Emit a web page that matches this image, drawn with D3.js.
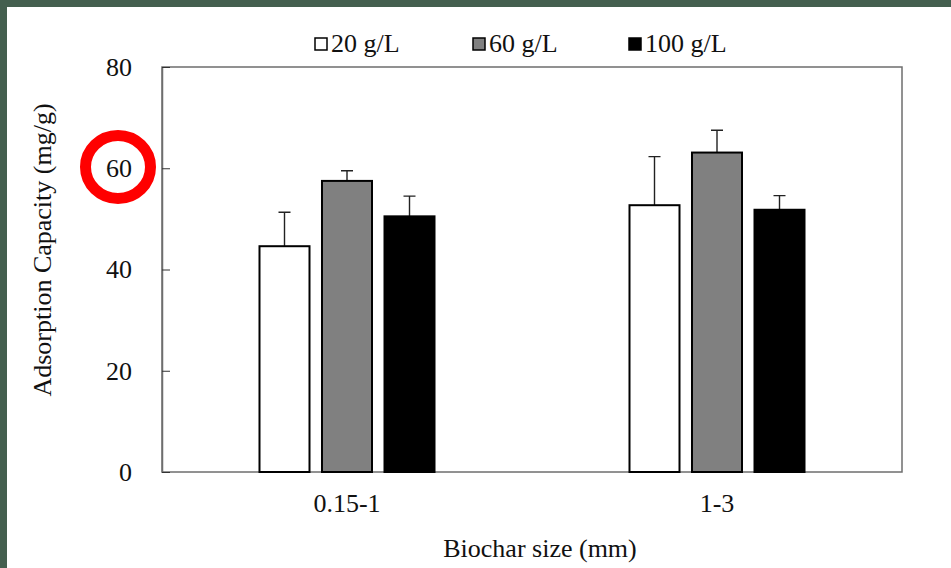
<!DOCTYPE html>
<html>
<head>
<meta charset="utf-8">
<script src="https://cdn.jsdelivr.net/npm/d3@7"></script>
<style>
  html, body { margin: 0; padding: 0; background: #fff; }
  svg { display: block; }
  text { font-family: "Liberation Serif", "Times New Roman", serif; fill: #111; }
</style>
</head>
<body>
<svg id="chart"></svg>
<script>
// data
var sizes = ["0.15-1", "1-3"];
var doses = ["20 g/L", "60 g/L", "100 g/L"];
var fills = ["#ffffff", "#808080", "#000000"];
var means = [
  [44.6, 57.5, 50.5],
  [52.7, 63.1, 51.8]
];
var errs = [
  [6.7, 2.0, 4.0],
  [9.6, 4.4, 2.8]
];
var yTicks = [0, 20, 40, 60, 80];

var width = 951,
    height = 568;

var margin = {left: 162, top: 67, right: 49, bottom: 96};

var svg = d3.select("#chart")
    .attr("width", width)
    .attr("height", height);

// dark frame at left and top
svg.append("rect").attr("x", 0).attr("y", 0).attr("width", width).attr("height", 7).attr("fill", "#445f4f");
svg.append("rect").attr("x", 0).attr("y", 0).attr("width", 7).attr("height", height).attr("fill", "#445f4f");

var x0 = d3.scaleBand()
    .domain(sizes)
    .range([margin.left, width - margin.right]);

var x1 = d3.scaleBand()
    .domain(doses)
    .range([-87.5, 87.5])
    .paddingInner(0.2);

var y = d3.scaleLinear()
    .domain([0, 80])
    .range([height - margin.bottom, margin.top]);

// plot frame
svg.append("rect")
    .attr("x", margin.left)
    .attr("y", margin.top)
    .attr("width", width - margin.left - margin.right)
    .attr("height", height - margin.top - margin.bottom)
    .attr("fill", "none")
    .attr("stroke", "#6e6e6e")
    .attr("stroke-width", 1.5);

var yAxis = svg.append("g")
    .attr("transform", "translate(" + margin.left + ",0)")
    .call(d3.axisLeft(y).tickValues(yTicks).tickSizeInner(-8).tickSizeOuter(0).tickPadding(30));
yAxis.select(".domain").attr("stroke", "#6e6e6e").attr("stroke-width", 1.5);
yAxis.selectAll(".tick line").attr("stroke", "#333");
yAxis.selectAll(".tick text")
    .attr("font-size", 26)
    .attr("font-family", "Liberation Serif, serif")
    .attr("fill", "#111");

var xAxis = svg.append("g")
    .attr("transform", "translate(0," + (height - margin.bottom) + ")")
    .call(d3.axisBottom(x0).tickSize(0).tickPadding(22));
xAxis.select(".domain").remove();
xAxis.selectAll(".tick text")
    .attr("font-size", 26)
    .attr("font-family", "Liberation Serif, serif")
    .attr("fill", "#111");

var groups = svg.selectAll(".grp")
    .data(sizes)
    .enter()
    .append("g")
    .attr("class", "grp")
    .attr("transform", function(d) { return "translate(" + (x0(d) + x0.bandwidth() / 2) + ",0)"; });

// error bars (upper only)
groups.selectAll(".err")
    .data(function(d, i) { return doses.map(function(k, j) { return {k: k, v: means[i][j], e: errs[i][j]}; }); })
    .enter()
    .append("path")
    .attr("class", "err")
    .attr("d", function(d) {
        var cx = x1(d.k) + x1.bandwidth() / 2;
        var t = y(d.v + d.e);
        return "M" + cx + "," + y(d.v) + "V" + t + "M" + (cx - 6) + "," + t + "H" + (cx + 6);
    })
    .attr("stroke", "#222")
    .attr("stroke-width", 1.4)
    .attr("fill", "none");

groups.selectAll(".bar")
    .data(function(d, i) { return doses.map(function(k, j) { return {k: k, v: means[i][j], c: fills[j]}; }); })
    .enter()
    .append("rect")
    .attr("class", "bar")
    .attr("x", function(d) { return x1(d.k); })
    .attr("y", function(d) { return y(d.v); })
    .attr("width", x1.bandwidth())
    .attr("height", function(d) { return y(0) - y(d.v); })
    .attr("fill", function(d) { return d.c; })
    .attr("stroke", "#000")
    .attr("stroke-width", 2);

// legend
var legendX = [314, 472, 628];
var legend = svg.selectAll(".leg")
    .data(doses)
    .enter()
    .append("g")
    .attr("class", "leg")
    .attr("transform", function(d, i) { return "translate(" + legendX[i] + ",37)"; });
legend.append("rect")
    .attr("x", 1).attr("y", 1)
    .attr("width", 12).attr("height", 12)
    .attr("fill", function(d, i) { return fills[i]; })
    .attr("stroke", "#000")
    .attr("stroke-width", 1.5);
legend.append("text")
    .attr("x", 17)
    .attr("y", 15)
    .attr("font-size", 26)
    .text(function(d) { return d; });

// axis titles
svg.append("text")
    .attr("x", 540)
    .attr("y", 557)
    .attr("text-anchor", "middle")
    .attr("font-size", 26)
    .text("Biochar size (mm)");

svg.append("text")
    .attr("transform", "translate(51,250) rotate(-90)")
    .attr("text-anchor", "middle")
    .attr("font-size", 26)
    .text("Adsorption Capacity (mg/g)");

// red highlight ring around the 60 tick label
svg.append("ellipse")
    .attr("cx", 118)
    .attr("cy", 167)
    .attr("rx", 32.5)
    .attr("ry", 31.5)
    .attr("fill", "none")
    .attr("stroke", "#ff0000")
    .attr("stroke-width", 11);
</script>
</body>
</html>
